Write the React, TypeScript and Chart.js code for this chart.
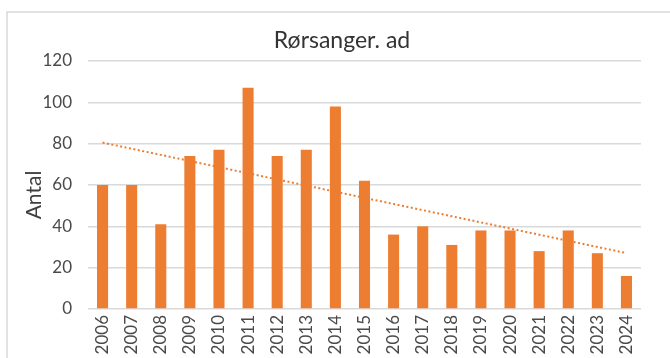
import React, { useEffect, useRef } from "react";
import { Chart, registerables } from "chart.js";

Chart.register(...registerables);

const years = [
  "2006", "2007", "2008", "2009", "2010", "2011", "2012", "2013", "2014", "2015",
  "2016", "2017", "2018", "2019", "2020", "2021", "2022", "2023", "2024",
];
const counts = [60, 60, 41, 74, 77, 107, 74, 77, 98, 62, 36, 40, 31, 38, 38, 28, 38, 27, 16];
const titleText = "Rørsanger. ad";
const yTitle = "Antal";
const yMin = 0;
const yMax = 120;
const yStep = 20;

const ORANGE = "#ED7D31";
const GRID = "#D9D9D9";
const TEXT = "#4A4A4A";
const FONT = "Lato, 'Open Sans', sans-serif";

// Least-squares linear trend of the counts (like a spreadsheet linear trendline)
function linearTrend(values: number[]): number[] {
  const n = values.length;
  const mx = (n - 1) / 2;
  const my = values.reduce((a, b) => a + b, 0) / n;
  let sxy = 0;
  let sxx = 0;
  values.forEach((v, i) => {
    sxy += (i - mx) * (v - my);
    sxx += (i - mx) * (i - mx);
  });
  const slope = sxy / sxx;
  return values.map((_, i) => my + slope * (i - mx));
}

const frameAndLabels = {
  id: "frameAndLabels",
  beforeDraw(chart: Chart) {
    const ctx = chart.ctx;
    ctx.save();
    ctx.fillStyle = "#ffffff";
    ctx.fillRect(0, 0, chart.width, chart.height);
    ctx.strokeStyle = GRID;
    ctx.lineWidth = 1.5;
    ctx.beginPath();
    ctx.moveTo(7, chart.height);
    ctx.lineTo(7, 12);
    ctx.lineTo(chart.width, 12);
    ctx.stroke();
    ctx.restore();
  },
  afterDraw(chart: Chart) {
    const ctx = chart.ctx;
    ctx.save();
    ctx.fillStyle = "#333333";
    ctx.font = `23px ${FONT}`;
    ctx.textAlign = "center";
    ctx.textBaseline = "middle";
    ctx.fillText(titleText, 342, 41);
    ctx.fillStyle = "#404040";
    ctx.font = `21px ${FONT}`;
    ctx.translate(34, 195);
    ctx.rotate(-Math.PI / 2);
    ctx.fillText(yTitle, 0, 0);
    ctx.restore();
  },
};

export default function App() {
  const canvasRef = useRef<HTMLCanvasElement | null>(null);

  useEffect(() => {
    if (!canvasRef.current) return;
    const chart = new Chart(canvasRef.current, {
      type: "bar",
      data: {
        labels: years,
        datasets: [
          {
            type: "line",
            label: "Trend",
            data: linearTrend(counts),
            borderColor: ORANGE,
            borderWidth: 2,
            borderDash: [2, 2.5],
            borderCapStyle: "butt",
            pointRadius: 0,
            fill: false,
            order: 0,
          },
          {
            type: "bar",
            label: yTitle,
            data: counts,
            backgroundColor: ORANGE,
            barPercentage: 0.38,
            categoryPercentage: 1,
            order: 1,
          },
        ],
      },
      options: {
        responsive: false,
        animation: false,
        layout: { padding: { left: 14, right: 29, top: 61, bottom: 0 } },
        plugins: {
          legend: { display: false },
          title: { display: false },
          tooltip: { enabled: false },
        },
        scales: {
          x: {
            grid: { display: false, drawTicks: false },
            border: { display: false },
            ticks: {
              color: TEXT,
              font: { family: FONT, size: 17 },
              minRotation: 90,
              maxRotation: 90,
              padding: 6,
              autoSkip: false,
            },
            afterFit(scale: any) {
              scale.height = 49;
            },
          },
          y: {
            min: yMin,
            max: yMax,
            grid: { color: GRID, lineWidth: 1.5, drawTicks: false },
            border: { display: false },
            ticks: {
              stepSize: yStep,
              color: TEXT,
              font: { family: FONT, size: 17 },
              padding: 16,
            },
            afterFit(scale: any) {
              scale.width = 74;
            },
          },
        },
      },
      plugins: [frameAndLabels],
    });
    return () => chart.destroy();
  }, []);

  return (
    <div style={{ position: "fixed", left: 0, top: 0, width: 670, height: 358, background: "#fff" }}>
      <canvas ref={canvasRef} width={670} height={358} style={{ display: "block" }} />
    </div>
  );
}
